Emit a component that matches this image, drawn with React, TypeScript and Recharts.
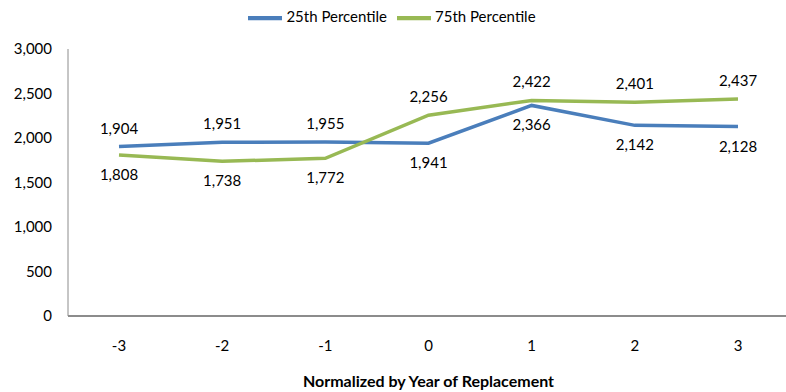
import { LineChart, Line, XAxis, YAxis, Legend, LabelList } from 'recharts';

const years = ['-3', '-2', '-1', '0', '1', '2', '3'];
const p25 = [1904, 1951, 1955, 1941, 2366, 2142, 2128];
const p75 = [1808, 1738, 1772, 2256, 2422, 2401, 2437];
// which side of the point each value label sits on
const p25Side = ['top', 'top', 'top', 'bottom', 'bottom', 'bottom', 'bottom'];
const p75Side = ['bottom', 'bottom', 'bottom', 'top', 'top', 'top', 'top'];
const yTicks = [0, 500, 1000, 1500, 2000, 2500, 3000];

const FONT = 'Lato, "Open Sans", sans-serif';
const BLUE = '#4a7ebb';
const GREEN = '#98b954';

const chartData = years.map((year, i) => ({ year, p25: p25[i], p75: p75[i] }));

const fmt = (v: number) => v.toLocaleString('en-US');

function makeLabel(sides: string[]) {
  return (props: any) => {
    const { x, y, value, index } = props;
    const above = sides[index] === 'top';
    return (
      <text
        x={x}
        y={above ? y - 13 : y + 25}
        textAnchor="middle"
        fontSize={15}
        fontFamily={FONT}
        fill="#000"
      >
        {fmt(value)}
      </text>
    );
  };
}

function XTitle(props: any) {
  const { viewBox } = props;
  return (
    <text
      x={viewBox.x + viewBox.width / 2}
      y={viewBox.y + 71}
      textAnchor="middle"
      fontSize={16}
      fontWeight="bold"
      fontFamily={FONT}
      fill="#000"
    >
      Normalized by Year of Replacement
    </text>
  );
}

export default function App() {
  return (
    <div style={{ position: 'absolute', left: 0, top: 0, background: '#fff' }}>
      <LineChart
        width={786}
        height={392}
        data={chartData}
        margin={{ top: 15, right: -3, left: 0, bottom: 0 }}
      >
        <XAxis
          dataKey="year"
          height={76}
          padding={{ left: 51, right: 51 }}
          axisLine={{ stroke: '#8c8c8c', strokeWidth: 2 }}
          tickLine={false}
          tick={{ fontSize: 15, fontFamily: FONT, fill: '#000', dy: 16 }}
          label={<XTitle />}
        />
        <YAxis
          width={68}
          domain={[0, 3000]}
          ticks={yTicks}
          interval={0}
          axisLine={{ stroke: '#8c8c8c', strokeWidth: 1 }}
          tickLine={false}
          tickFormatter={fmt}
          tick={{ fontSize: 15, fontFamily: FONT, fill: '#000', dx: -8 }}
        />
        <Legend
          verticalAlign="top"
          align="center"
          iconType="plainline"
          iconSize={34}
          wrapperStyle={{ top: 1, left: 4, width: 786, fontFamily: FONT, fontSize: 15 }}
          formatter={(v: string) => <span style={{ color: '#000' }}>{v}</span>}
        />
        <Line
          dataKey="p25"
          name="25th Percentile"
          stroke={BLUE}
          strokeWidth={3.5}
          dot={false}
          isAnimationActive={false}
        >
          <LabelList dataKey="p25" content={makeLabel(p25Side)} />
        </Line>
        <Line
          dataKey="p75"
          name="75th Percentile"
          stroke={GREEN}
          strokeWidth={3.5}
          dot={false}
          isAnimationActive={false}
        >
          <LabelList dataKey="p75" content={makeLabel(p75Side)} />
        </Line>
      </LineChart>
    </div>
  );
}
